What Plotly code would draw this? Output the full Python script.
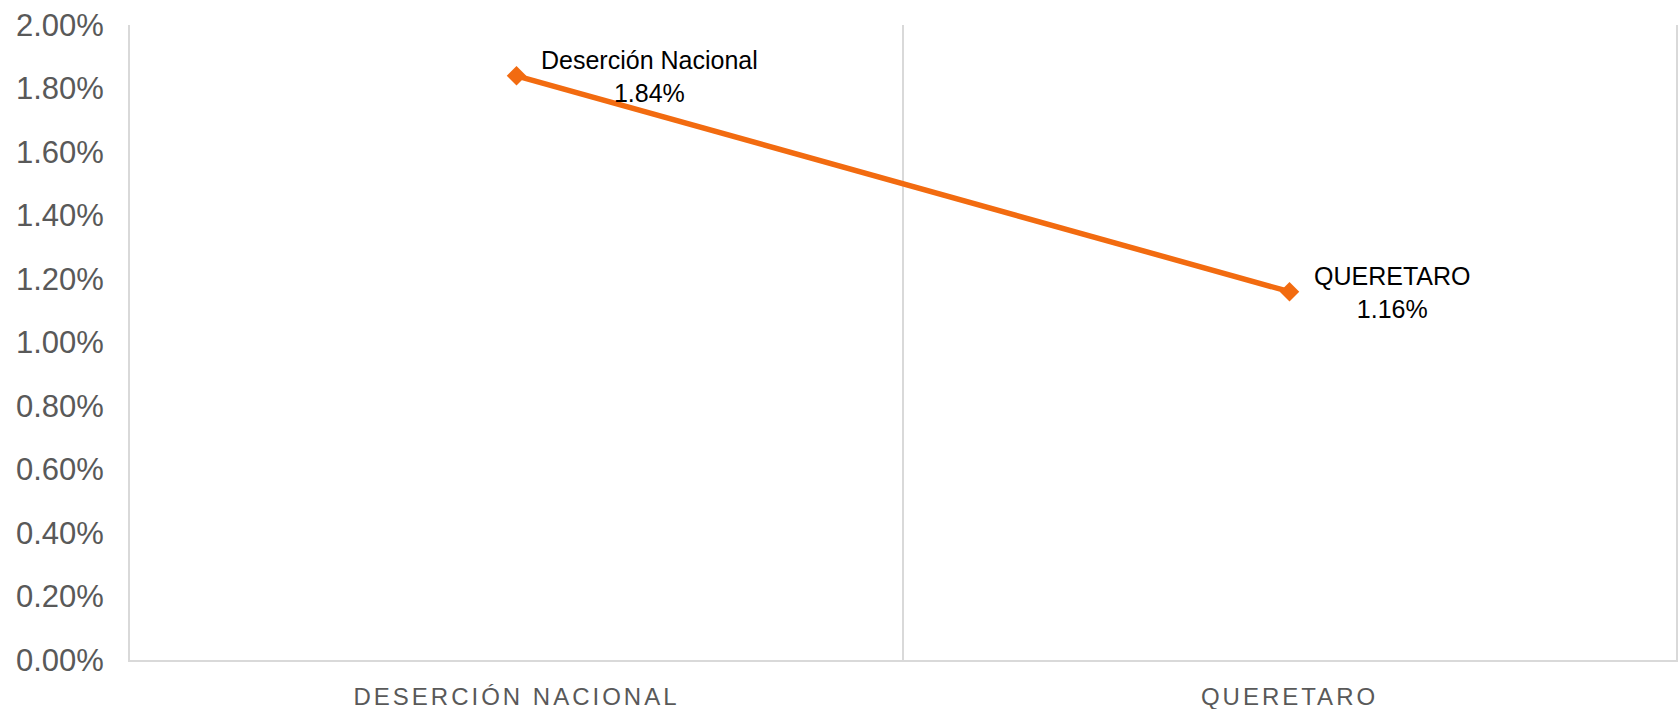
import plotly.graph_objects as go

# datos
categorias = ["Deserción Nacional", "QUERETARO"]
etiquetas_eje = ["DESERCIÓN NACIONAL", "QUERETARO"]
desercion = [0.0184, 0.0116]

naranja = "#F26B10"
gris_linea = "#D9D9D9"
gris_texto = "#595959"
fuente = "Liberation Sans"

x_pos = list(range(len(categorias)))

fig = go.Figure()

fig.add_trace(go.Scatter(
    x=x_pos,
    y=desercion,
    mode="lines+markers",
    line=dict(color=naranja, width=5.5),
    marker=dict(symbol="diamond", size=15, color=naranja),
    hoverinfo="skip",
    showlegend=False
))

# etiquetas de datos (nombre + valor)
for xi, cat, val in zip(x_pos, categorias, desercion):
    fig.add_annotation(
        x=xi, y=val,
        text=f"{cat}<br>{val:.2%}",
        showarrow=False,
        xanchor="left", yanchor="middle",
        xshift=22, yshift=-1,
        align="center",
        font=dict(family=fuente, size=25, color="black")
    )

fig.update_layout(
    width=1678, height=709,
    margin=dict(l=130, r=2, t=25, b=49),
    paper_bgcolor="white",
    plot_bgcolor="white",
    font=dict(family=fuente, color=gris_texto),
    xaxis=dict(
        range=[-0.5, 1.5],
        tickvals=x_pos,
        ticktext=etiquetas_eje,
        tickfont=dict(size=24, color=gris_texto),
        showgrid=False,
        showline=True, linecolor=gris_linea, linewidth=2,
        ticks="",
        ticklabelstandoff=14,
        automargin=False,
        zeroline=False,
        minor=dict(tickvals=[0.5], showgrid=True,
                   gridcolor=gris_linea, gridwidth=2, ticks=""),
        fixedrange=True
    ),
    yaxis=dict(
        range=[0, 0.02],
        dtick=0.002,
        tickformat=".2%",
        tickfont=dict(size=31, color=gris_texto),
        showgrid=False,
        zeroline=False,
        showline=True, mirror=True, linecolor=gris_linea, linewidth=2,
        ticks="",
        ticklabelstandoff=18,
        automargin=False,
        fixedrange=True
    )
)

espaciado = """
document.body.style.margin = '0';
var gd = document.getElementById('{plot_id}');
function espaciar() {
  gd.querySelectorAll('.xtick text').forEach(function (t) {
    t.setAttribute('letter-spacing', '3px');
  });
}
espaciar();
gd.on('plotly_afterplot', espaciar);
"""

fig.write_html("out.html", post_script=espaciado, config={"displayModeBar": False})
